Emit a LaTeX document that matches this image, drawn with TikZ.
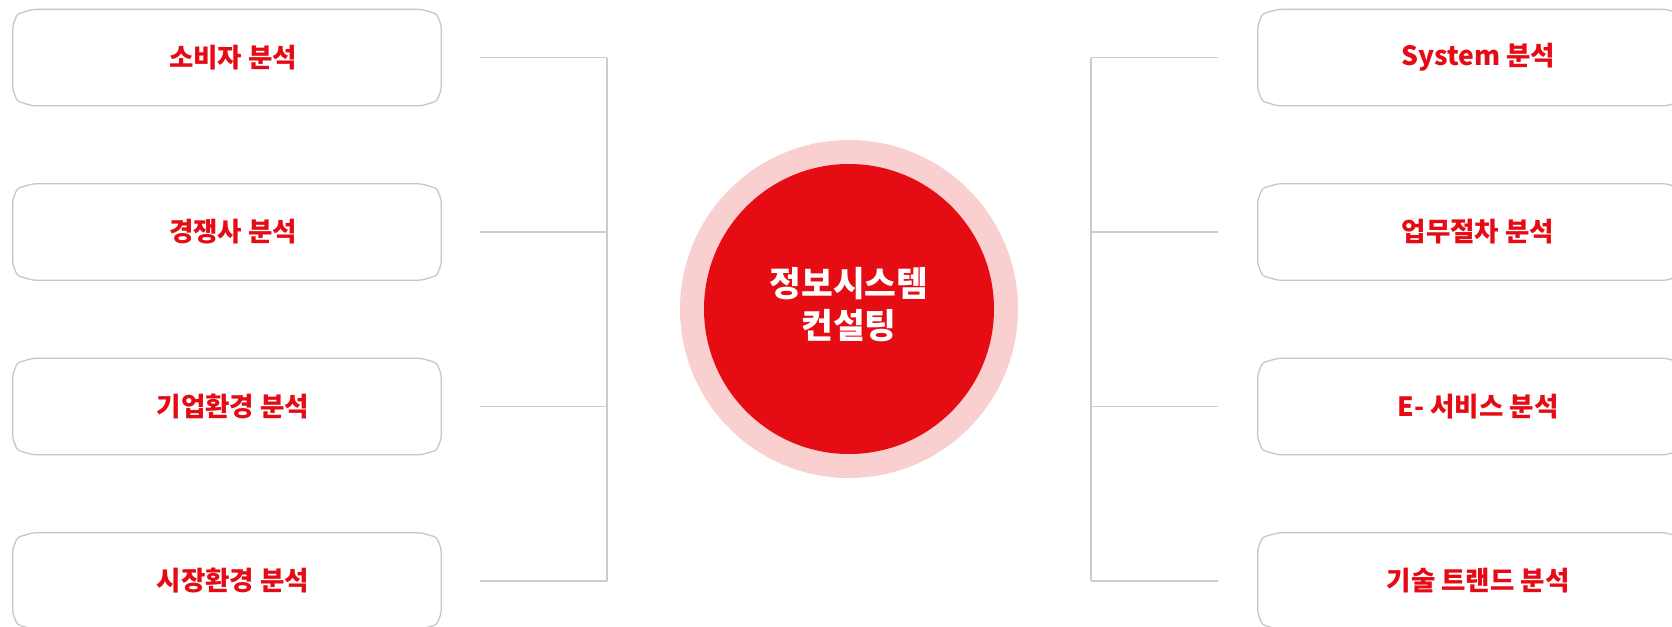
\documentclass[tikz,border=0pt]{standalone}
\usepackage{fontspec}
\setmainfont{Noto Sans CJK KR}
\definecolor{hred}{HTML}{E50A14}
\definecolor{cred}{HTML}{E60C14}
\definecolor{cpink}{HTML}{F9CFD0}
\definecolor{lgray}{HTML}{CCCCCC}
\definecolor{bgray}{HTML}{C6C6C6}
\newcommand\plaqueoutline[1]{%
  \draw[boxline] ([yshift=-16pt]#1.north west) -- ([xshift=4.5pt,yshift=-4.5pt]#1.north west) -- ([xshift=20pt]#1.north west)
   -- ([xshift=-20pt]#1.north east) -- ([xshift=-4.5pt,yshift=-4.5pt]#1.north east) -- ([yshift=-16pt]#1.north east)
   -- ([yshift=16pt]#1.south east) -- ([xshift=-4.5pt,yshift=4.5pt]#1.south east) -- ([xshift=-20pt]#1.south east)
   -- ([xshift=20pt]#1.south west) -- ([xshift=4.5pt,yshift=4.5pt]#1.south west) -- ([yshift=16pt]#1.south west) -- cycle;}
\begin{document}
\begin{tikzpicture}[x=1pt,y=1pt,
  boxnode/.style={minimum width=428pt,minimum height=96pt,inner sep=0pt,text=hred,font=\fontsize{26.5}{30}\selectfont\bfseries},
  boxline/.style={draw=bgray,line width=1.3pt,rounded corners=3pt},
  conn/.style={draw=lgray,line width=1.2pt}]
\useasboundingbox (0,0) rectangle (1672,-626);
\clip (0,0) rectangle (1672,-626);
% central circle
\node[circle,fill=cpink,minimum size=338pt,inner sep=0pt] (outer) at (849,-309) {};
\node[circle,fill=cred,minimum size=290pt,inner sep=0pt] (inner) at (849,-309) {};
\node[text=white,align=center,font=\fontsize{34.5}{42}\selectfont\bfseries] (ctext) at (849,-305) {정보시스템\\컨설팅};
% left boxes
\node[boxnode] (l1) at (227,-57.6) {\hspace*{12pt}소비자 분석};
\node[boxnode] (l2) at (227,-232) {\hspace*{12pt}경쟁사 분석};
\node[boxnode] (l3) at (227,-406.5) {\hspace*{12pt}기업환경 분석};
\node[boxnode] (l4) at (227,-581) {\hspace*{12pt}시장환경 분석};
% right boxes
\node[boxnode] (r1) at (1472,-57.6) {\hspace*{12pt}System 분석};
\node[boxnode] (r2) at (1472,-232) {\hspace*{12pt}업무절차 분석};
\node[boxnode] (r3) at (1472,-406.5) {\hspace*{12pt}E- 서비스 분석};
\node[boxnode] (r4) at (1472,-581) {\hspace*{12pt}기술 트랜드 분석};
\foreach \n in {l1,l2,l3,l4,r1,r2,r3,r4} {\plaqueoutline{\n}}
% bracket coordinates
\coordinate (lt) at (607,-57.6);
\coordinate (lb) at (607,-581);
\coordinate (rt) at (1091,-57.6);
\coordinate (rb) at (1091,-581);
\draw[conn] (lt) -- (lb);
\draw[conn] (rt) -- (rb);
\foreach \n in {l1,l2,l3,l4} {\draw[conn] ([xshift=39pt]\n.east) -- (\n.east -| lt);}
\foreach \n in {r1,r2,r3,r4} {\draw[conn] ([xshift=-40pt]\n.west) -- (\n.west -| rt);}
\end{tikzpicture}
\end{document}
